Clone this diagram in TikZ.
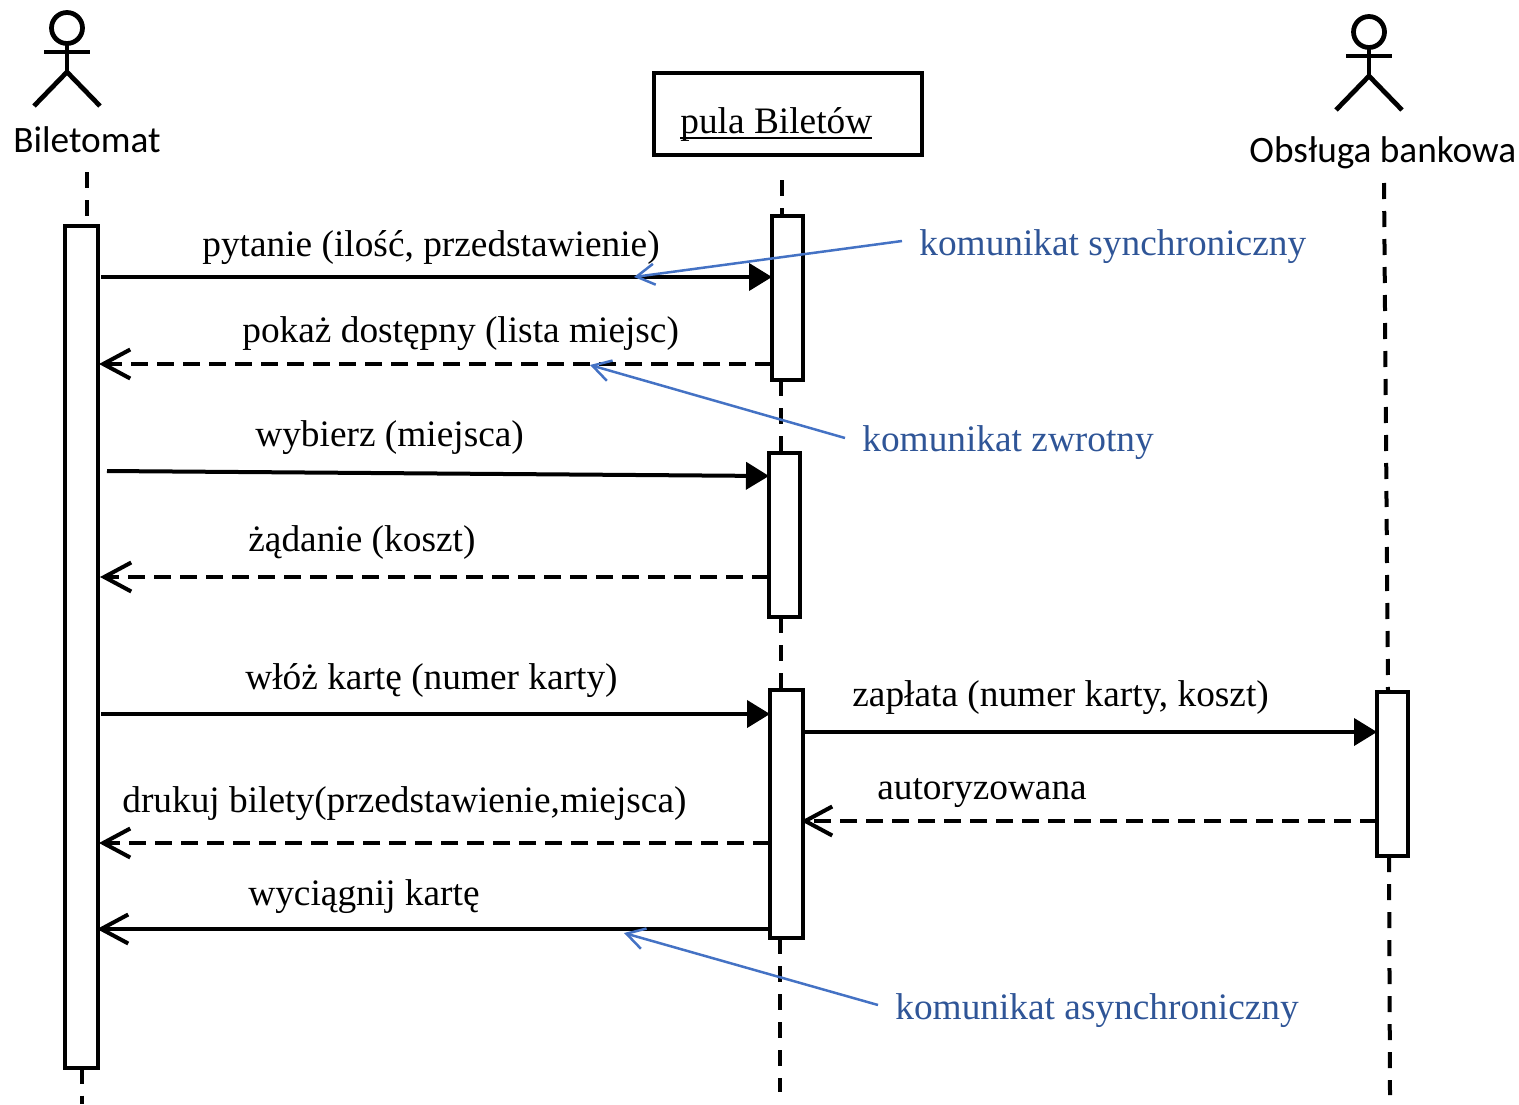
\documentclass[tikz,border=0pt]{standalone}
\usepackage{fontspec}
\setmainfont{Liberation Serif}
\newfontfamily\actorfont{Carlito}
\usetikzlibrary{arrows.meta}
\definecolor{noteline}{RGB}{68,114,196}
\definecolor{notetext}{RGB}{47,85,151}
\tikzset{
  actor/.pic={
    \draw[line width=0.95mm] (0,0) circle (15.5);
    \draw[line width=0.95mm] (-23,24) -- (23,24);
    \draw[line width=0.95mm] (0,15.5) -- (0,44);
    \draw[line width=0.95mm] (-33,78) -- (0,44) -- (33,78);
  },
  activation/.style={draw,fill=white,line width=0.8mm,minimum width=#1,inner sep=0pt,outer sep=0pt},
  lifeline/.style={line width=0.8mm,dash pattern=on 3.2mm off 2.4mm},
  sync/.style={line width=0.8mm,-{Triangle[length=4.6mm,width=5.4mm]}},
  reply/.style={line width=0.8mm,dash pattern=on 3.4mm off 1.8mm,-{Straight Barb[length=5.4mm,width=5.8mm]}},
  async/.style={line width=0.8mm,-{Straight Barb[length=5.4mm,width=5.8mm]}},
  note/.style={line width=0.5mm,noteline,-{Straight Barb[length=3.6mm,width=4.2mm]}},
  msg/.style={anchor=base west,inner sep=0pt,font=\fontsize{21.25pt}{25pt}\selectfont},
  notelabel/.style={anchor=base west,inner ysep=0pt,inner xsep=3.4mm,text=notetext,font=\fontsize{21.25pt}{25pt}\selectfont},
  actorlabel/.style={anchor=base west,inner sep=0pt,font=\actorfont\fontsize{21.2pt}{25pt}\selectfont}
}
\begin{document}
\begin{tikzpicture}[x=0.2mm,y=-0.2mm]
    \useasboundingbox (0,0) rectangle (1519,1104);
    % actors and the object
    \pic at (67,28) {actor};
    \pic at (1369,32) {actor};
    \node[actorlabel] (ticket) at (13,152) {Biletomat};
    \node[actorlabel] (bank) at (1249,162) {Obsługa bankowa};
    \node[draw,line width=0.8mm,minimum width=53.6mm,minimum height=16.4mm] (pool) at (788,114) {};
    \node[msg] (poolname) at (680,133) {\makebox[0pt][l]{\rule[-1.1mm]{38.4mm}{0.4mm}}pula Biletów};
    % activation boxes
    \node[activation=6.6mm,minimum height=168.2mm] (act) at (81.5,647) {};
    \node[activation=6.2mm,minimum height=32.8mm] (poolA) at (787.5,298) {};
    \node[activation=6.2mm,minimum height=32.8mm] (poolB) at (784.5,535) {};
    \node[activation=6.6mm,minimum height=49.6mm] (poolC) at (786.5,814) {};
    \node[activation=6.2mm,minimum height=32.8mm] (pay) at (1392.5,774) {};
    % lifelines
    \coordinate (lifeA) at (87,172);
    \coordinate (lifeB) at (82,1104);
    \coordinate (lifeC) at (782,180);
    \coordinate (lifeD) at (781,380);
    \coordinate (lifeE) at (781,617);
    \coordinate (lifeF) at (780,1092);
    \coordinate (lifeG) at (1384,183);
    \coordinate (lifeH) at (1388,692);
    \coordinate (lifeI) at (1389,856);
    \coordinate (lifeJ) at (1390,1095);
    \draw[lifeline] (lifeA) -- (lifeA |- act.north);
    \draw[lifeline] (lifeB |- act.south) -- (lifeB);
    \draw[lifeline] (lifeC) -- (lifeC |- poolA.north);
    \draw[lifeline] (lifeD) -- (lifeD |- poolB.north);
    \draw[lifeline] (lifeE) -- (lifeE |- poolC.north);
    \draw[lifeline] (lifeF |- poolC.south) -- (lifeF);
    \draw[lifeline] (lifeG) -- (lifeH);
    \draw[lifeline] (lifeI) -- (lifeJ);
    % messages
    \coordinate (askL) at (101,277);
    \coordinate (showL) at (99,364);
    \coordinate (pickL) at (107,471);
    \coordinate (pickR) at (769,476);
    \coordinate (costL) at (100,577);
    \coordinate (cardL) at (101,714);
    \coordinate (paidL) at (803,732);
    \coordinate (authL) at (801,821);
    \coordinate (printL) at (99,843);
    \coordinate (takeL) at (97,929);
    \draw[sync] (askL) -- (askL -| poolA.west);
    \draw[reply] (showL -| poolA.west) -- (showL);
    \draw[sync] (pickL) -- (pickR);
    \draw[reply] (costL -| poolB.west) -- (costL);
    \draw[sync] (cardL) -- (cardL -| poolC.west);
    \draw[sync] (paidL) -- (paidL -| pay.west);
    \draw[reply] (authL -| pay.west) -- (authL);
    \draw[reply] (printL -| poolC.west) -- (printL);
    \draw[async] (takeL -| poolC.west) -- (takeL);
    \node[msg] (askT) at (202,256) {pytanie (ilość, przedstawienie)};
    \node[msg] (showT) at (242,342) {pokaż dostępny (lista miejsc)};
    \node[msg] (pickT) at (255,446) {wybierz (miejsca)};
    \node[msg] (costT) at (248,551) {żądanie (koszt)};
    \node[msg] (cardT) at (245,689) {włóż kartę (numer karty)};
    \node[msg] (paidT) at (852,706) {zapłata (numer karty, koszt)};
    \node[msg] (authT) at (877,799) {autoryzowana};
    \node[msg] (printT) at (122,812) {drukuj bilety(przedstawienie,miejsca)};
    \node[msg] (takeT) at (248,905) {wyciągnij kartę};
    % blue notes
    \node[notelabel] (noteSync) at (902,255) {komunikat synchroniczny};
    \node[notelabel] (noteBack) at (845,451) {komunikat zwrotny};
    \node[notelabel] (noteAsync) at (878,1019) {komunikat asynchroniczny};
    \coordinate (hitSync) at (634,277);
    \coordinate (hitBack) at (590,365);
    \coordinate (hitAsync) at (624,933);
    \draw[note] ([yshift=2.8mm]noteSync.base west) -- (hitSync);
    \draw[note] ([yshift=2.6mm]noteBack.base west) -- (hitBack);
    \draw[note] ([yshift=2.8mm]noteAsync.base west) -- (hitAsync);
\end{tikzpicture}
\end{document}
